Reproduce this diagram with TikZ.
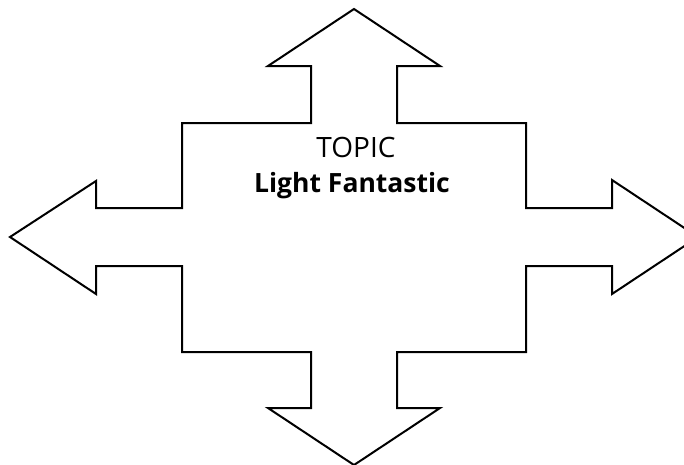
\documentclass[tikz,border=0pt]{standalone}
\usepackage{fontspec}
\setmainfont{Open Sans}
\tikzset{
  arrowshape/.style={draw=black, line width=2pt, line join=miter, fill=white},
  labeltext/.style={inner sep=0pt, anchor=base}
}
\begin{document}
\begin{tikzpicture}[x=1pt, y=-1pt]
\useasboundingbox (0,0) rectangle (684,464);
\clip (0,0) rectangle (684,464);
\draw[arrowshape] (354,9) -- (440,66) -- (397,66) -- (397,123) -- (526,123) -- (526,208)
  -- (612,208) -- (612,180) -- (698,237) -- (612,294) -- (612,266) -- (526,266)
  -- (526,352) -- (397,352) -- (397,408) -- (440,408) -- (354,465) -- (268,408)
  -- (311,408) -- (311,352) -- (182,352) -- (182,266) -- (96,266) -- (96,294)
  -- (10,237) -- (96,181) -- (96,208) -- (182,208) -- (182,123) -- (311,123)
  -- (311,66) -- (268,66) -- cycle;
\node[labeltext, font=\fontsize{28}{32}\selectfont] (topic) at (356,157) {TOPIC};
\node[labeltext, font=\fontsize{26.5}{30}\selectfont\bfseries] (title) at (352,192) {Light Fantastic};
\end{tikzpicture}
\end{document}
